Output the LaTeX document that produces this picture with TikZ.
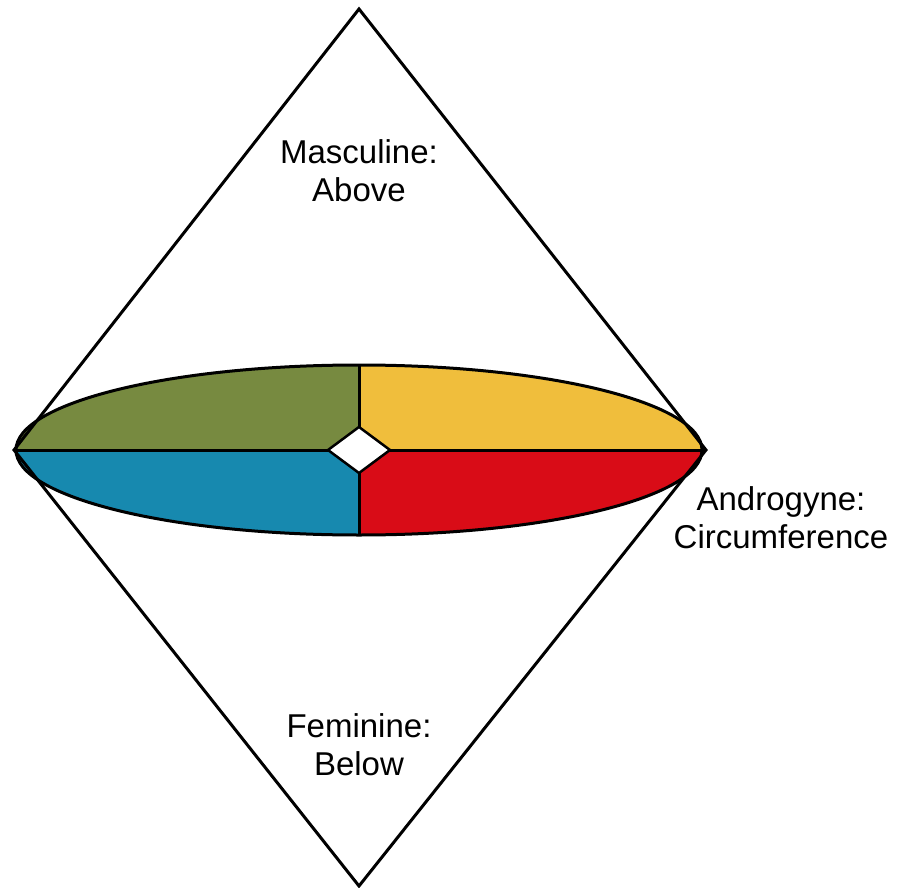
\documentclass[tikz,border=0pt]{standalone}
\usepackage{fontspec}
\setmainfont{Liberation Sans}
\definecolor{olive}{HTML}{778A40}
\definecolor{gold}{HTML}{F0BE3C}
\definecolor{teal}{HTML}{1789AF}
\definecolor{crimson}{HTML}{D90C17}
\tikzset{
  outline/.style={draw=black, line width=3pt, line join=miter},
  lbl/.style={align=center, font=\fontsize{33}{38}\selectfont, inner sep=0pt}
}
\begin{document}
\begin{tikzpicture}[x=1pt,y=-1pt]
\useasboundingbox (0,0) rectangle (897,888);
\coordinate (T) at (359,9);
\coordinate (L) at (14,450);
\coordinate (R) at (706,450);
\coordinate (B) at (359,886);
\coordinate (C) at (359,450);
% quadrants
\begin{scope}
  \clip (C) ellipse [x radius=343, y radius=85];
  \fill[olive] (0,450) rectangle (359,360);
  \fill[gold] (359,450) rectangle (720,360);
  \fill[teal] (0,450) rectangle (359,540);
  \fill[crimson] (359,450) rectangle (720,540);
\end{scope}
\draw[line width=3pt] (16,450) -- (704,450);
\draw[line width=3pt] (359,365) -- (359,535);
\draw[line width=3pt] (C) ellipse [x radius=343, y radius=85];
\draw[line width=2.5pt, fill=white, line join=miter] (328,450) -- (359,427) -- (390,450) -- (359,473) -- cycle;
\draw[outline] (T) -- (R) -- (B) -- (L) -- cycle;
\node[lbl] (masc) at (359,171) {Masculine:\\Above};
\node[lbl] (fem) at (359,745) {Feminine:\\Below};
\node[lbl] (andr) at (781,518) {Androgyne:\\Circumference};
\end{tikzpicture}
\end{document}
